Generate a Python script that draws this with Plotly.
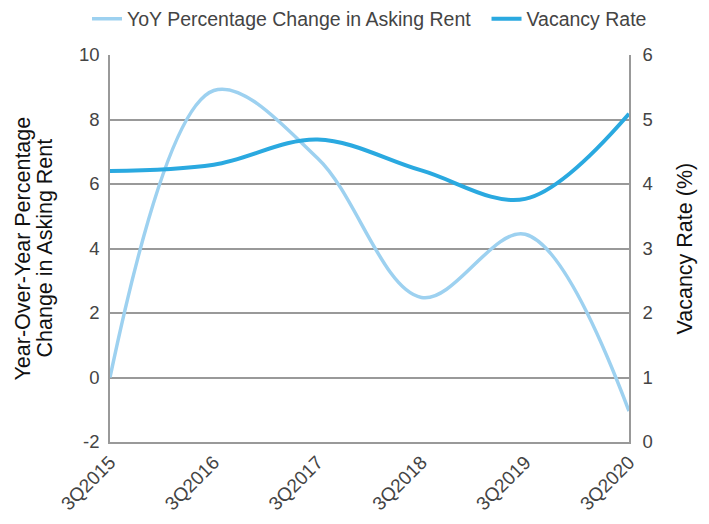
import plotly.graph_objects as go

quarters = ["3Q2015", "3Q2016", "3Q2017", "3Q2018", "3Q2019", "3Q2020"]
yoy_rent_change = [0.0, 8.9, 6.8, 2.48, 4.44, -1.04]
vacancy_rate = [4.2, 4.3, 4.69, 4.21, 3.77, 5.09]
left_ticks = [-2, 0, 2, 4, 6, 8, 10]
left_tick_labels = ["-2", "0", "2", "4", "6", "8", "10"]
series_names = ["YoY Percentage Change in Asking Rent", "Vacancy Rate"]

FONT = "Liberation Sans"
LIGHT = "#9DD1F0"
DARK = "#2AA9E0"
GRID = "#999999"
TICK = "#444444"
TITLE = "#111111"

W, H = 701, 516
PLOT_W, PLOT_H = 519, 387
LEFT, TOP = 102, 47
NBSP = "\u00a0"

fig = go.Figure()
fig.add_trace(go.Scatter(
    x=quarters, y=yoy_rent_change, name=series_names[0] + NBSP * 2,
    mode="lines", line=dict(color=LIGHT, width=3.5, shape="spline", smoothing=1.0),
    yaxis="y"))
fig.add_trace(go.Scatter(
    x=quarters, y=vacancy_rate, name=series_names[1],
    mode="lines", line=dict(color=DARK, width=4, shape="spline", smoothing=1.0),
    yaxis="y2"))

fig.update_layout(
    width=W, height=H,
    margin=dict(l=LEFT, r=80, t=TOP, b=82, autoexpand=False),
    paper_bgcolor="white", plot_bgcolor="white",
    font=dict(family=FONT, size=17, color=TICK),
    showlegend=True,
    legend=dict(orientation="h", x=(79 - LEFT) / PLOT_W, xanchor="left", yref="paper",
                y=1 + (TOP - 11) / PLOT_H, yanchor="middle",
                font=dict(size=19.5, color=TICK), itemwidth=30, traceorder="normal"),
    xaxis=dict(type="category", range=[0, 5], tickangle=-45, showgrid=False,
               showline=True, linecolor=GRID, linewidth=1.5, ticks="", automargin=False,
               tickfont=dict(size=19, color=TICK)),
    yaxis=dict(range=[-2, 10], tickvals=left_ticks, ticktext=left_tick_labels,
               showgrid=True, gridcolor=GRID, gridwidth=1.5, automargin=False,
               showline=True, linecolor=GRID, linewidth=1.5, zeroline=False, ticks="",
               ticklabelstandoff=5, tickfont=dict(size=18.5, color=TICK)),
    yaxis2=dict(range=[0, 6], dtick=1, overlaying="y", side="right", showgrid=False,
                showline=True, linecolor=GRID, linewidth=1.5, zeroline=False, ticks="",
                automargin=False, ticklabelstandoff=8,
                tickfont=dict(size=18.5, color=TICK)),
    annotations=[
        dict(text="Year-Over-Year Percentage", textangle=-90,
             xref="paper", yref="paper", x=0, xshift=-88, y=0.5, xanchor="center",
             yanchor="middle", showarrow=False, font=dict(size=21.5, color=TITLE)),
        dict(text="Change in Asking Rent", textangle=-90,
             xref="paper", yref="paper", x=0, xshift=-66, y=0.5, xanchor="center",
             yanchor="middle", showarrow=False, font=dict(size=21.5, color=TITLE)),
        dict(text="Vacancy Rate (%)", textangle=-90,
             xref="paper", yref="paper", x=1, xshift=55, y=0.5, xanchor="center",
             yanchor="middle", showarrow=False, font=dict(size=21.5, color=TITLE)),
    ],
)

fig.write_html("out.html")
